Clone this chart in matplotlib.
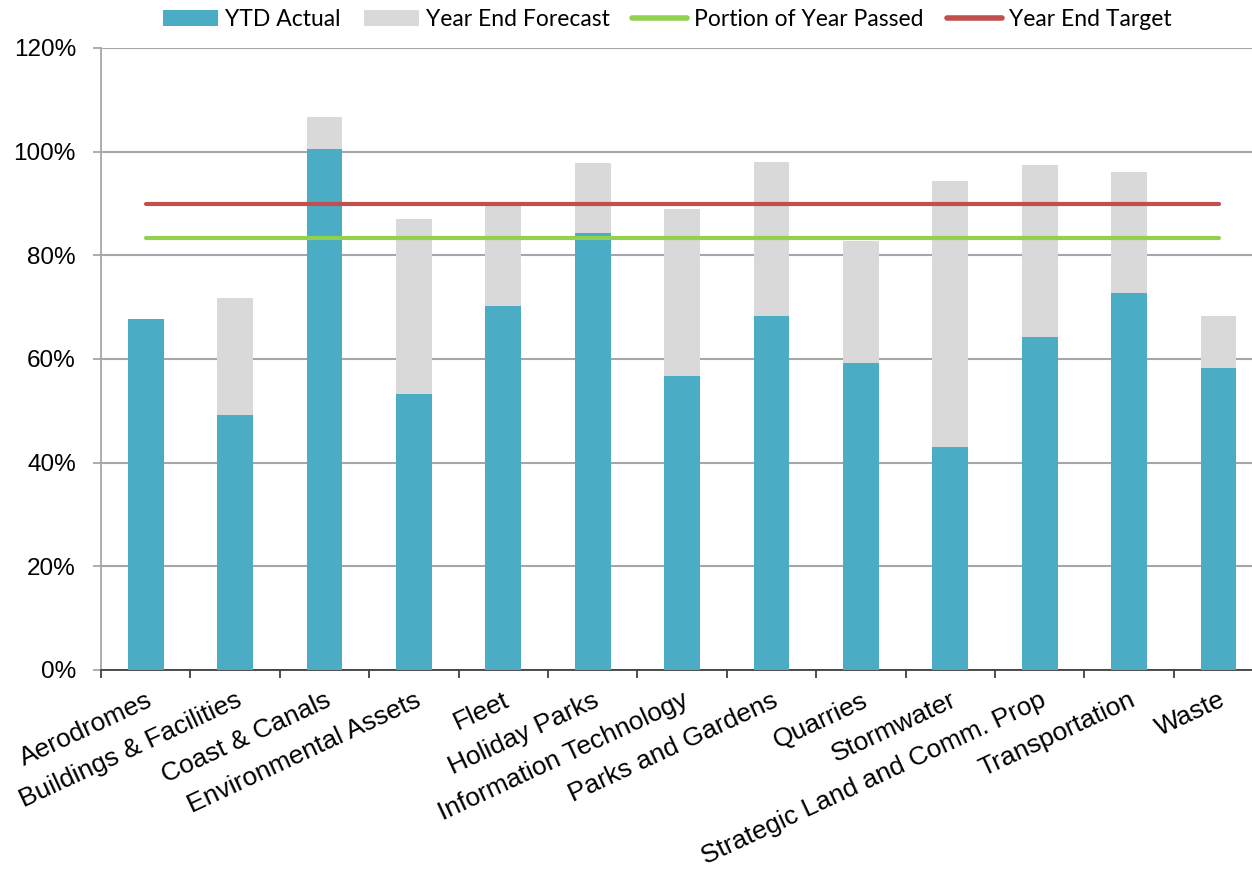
import numpy as np
import matplotlib
matplotlib.use('Agg')
import matplotlib.pyplot as plt
from matplotlib.ticker import FuncFormatter, FixedLocator

categories = ['Aerodromes', 'Buildings & Facilities', 'Coast & Canals',
              'Environmental Assets', 'Fleet', 'Holiday Parks',
              'Information Technology', 'Parks and Gardens', 'Quarries',
              'Stormwater', 'Strategic Land and Comm. Prop', 'Transportation',
              'Waste']
ytd_actual = [67.7, 49.2, 100.5, 53.3, 70.2, 84.3, 56.7, 68.3, 59.2, 43.0, 64.2, 72.7, 58.3]
year_end_forecast = [67.0, 71.8, 106.7, 87.0, 90.1, 97.8, 88.9, 98.0, 82.8, 94.3, 97.4, 96.1, 68.3]
portion_of_year = 83.33
year_end_target = 90.0

plt.rcParams['font.family'] = ['Liberation Sans', 'DejaVu Sans']

fig = plt.figure(figsize=(12.52, 8.69), dpi=100)
ax = fig.add_axes([101 / 1252, 1 - 670 / 869, 1 - 101 / 1252, (670 - 48) / 869])

x = np.arange(len(categories))
b_fc = ax.bar(x, year_end_forecast, width=0.4, color='#D9D9D9', zorder=2)
b_ytd = ax.bar(x, ytd_actual, width=0.4, color='#4BACC6', zorder=3)
l_por, = ax.plot([x[0], x[-1]], [portion_of_year] * 2, color='#92D050', lw=3,
                 solid_capstyle='round', zorder=4)
l_tgt, = ax.plot([x[0], x[-1]], [year_end_target] * 2, color='#C0504D', lw=3,
                 solid_capstyle='round', zorder=4)

ax.set_ylim(0, 120)
ax.set_xlim(-0.5, (1252 - 101) / 89.4 - 0.5)
ax.set_yticks(np.arange(0, 121, 20))
ax.yaxis.set_major_formatter(FuncFormatter(lambda v, p: '{:.0f}%'.format(v)))
ax.grid(axis='y', color='#A6A6A6', lw=1.5, zorder=0)
ax.set_axisbelow(True)

# ticks between categories, labels at centres
ax.xaxis.set_major_locator(FixedLocator(np.arange(-0.5, len(categories), 1)))
ax.xaxis.set_major_formatter(FuncFormatter(lambda v, p: ''))
ax.set_xticks(x, minor=True)
ax.set_xticklabels(categories, minor=True, rotation=25, ha='right',
                   rotation_mode='anchor', fontsize=19)
ax.tick_params(axis='x', which='minor', length=0, pad=13)
ax.tick_params(axis='x', which='major', length=6, width=1.3, color='#404040')
ax.tick_params(axis='y', length=6, width=1.3, color='#A6A6A6', labelsize=17.5, pad=12)

for s in ['top', 'right']:
    ax.spines[s].set_visible(False)
ax.spines['left'].set_color('#A6A6A6')
ax.spines['left'].set_linewidth(1.3)
ax.spines['bottom'].set_color('#404040')
ax.spines['bottom'].set_linewidth(1.3)

leg = fig.legend([b_ytd, b_fc, l_por, l_tgt],
                 ['YTD Actual', 'Year End Forecast', 'Portion of Year Passed', 'Year End Target'],
                 loc='center', bbox_to_anchor=(0.533, 0.978), ncol=4, frameon=False,
                 prop={'family': ['Lato', 'DejaVu Sans'], 'size': 16.5},
                 handlelength=2.4, handleheight=0.7, handletextpad=0.3, columnspacing=1.0,
                 borderpad=0.1)
for h in leg.get_lines():
    h.set_linewidth(4)

fig.savefig('out.png', dpi=100)
